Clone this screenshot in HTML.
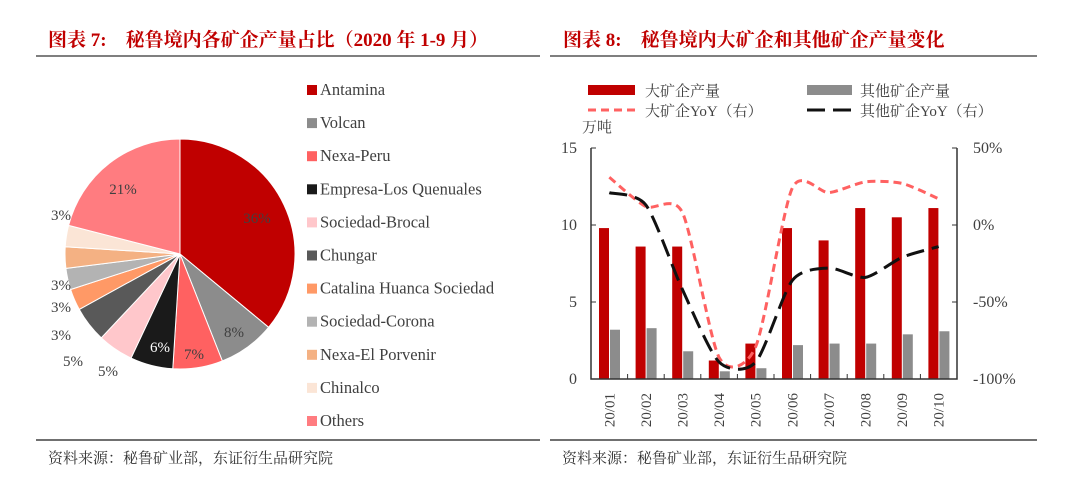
<!DOCTYPE html>
<html><head><meta charset="utf-8"><style>
body{margin:0;background:#fff;width:1080px;height:484px;overflow:hidden}
svg text{font-family:"Liberation Serif","Noto Serif CJK SC",serif}
</style></head><body>
<svg id="s" width="1080" height="484" xmlns="http://www.w3.org/2000/svg">
<text x="48" y="46" font-size="19" font-weight="bold" fill="#C00000" font-family="'Liberation Serif','Noto Serif CJK SC',serif">图表 7:　秘鲁境内各矿企产量占比（2020 年 1-9 月）</text>
<line x1="36" y1="56" x2="540" y2="56" stroke="#7f7f7f" stroke-width="2"/>
<line x1="36" y1="440" x2="540" y2="440" stroke="#404040" stroke-width="1.5"/>
<text x="48" y="463" font-size="15" fill="#333" font-family="'Noto Serif CJK SC',serif">资料来源：秘鲁矿业部，东证衍生品研究院</text>
<text x="563" y="46" font-size="19" font-weight="bold" fill="#C00000" font-family="'Liberation Serif','Noto Serif CJK SC',serif">图表 8:　秘鲁境内大矿企和其他矿企产量变化</text>
<line x1="550" y1="56" x2="1037" y2="56" stroke="#7f7f7f" stroke-width="2"/>
<line x1="550" y1="440" x2="1037" y2="440" stroke="#404040" stroke-width="1.5"/>
<text x="562" y="463" font-size="15" fill="#333" font-family="'Noto Serif CJK SC',serif">资料来源：秘鲁矿业部，东证衍生品研究院</text>
<g id="pie"></g>
<g id="leg" font-size="16.5" fill="#404040"></g>
<g id="pl" font-size="15" fill="#404040">
<text x="257" y="223" text-anchor="middle">36%</text>
<text x="234" y="337" text-anchor="middle">8%</text>
<text x="194" y="359" text-anchor="middle">7%</text>
<text x="160" y="352" text-anchor="middle" fill="#fff">6%</text>
<text x="108" y="376" text-anchor="middle">5%</text>
<text x="73" y="366" text-anchor="middle">5%</text>
<text x="61" y="340" text-anchor="middle">3%</text>
<text x="61" y="312" text-anchor="middle">3%</text>
<text x="61" y="290" text-anchor="middle">3%</text>
<text x="61" y="220" text-anchor="middle">3%</text>
<text x="123" y="194" text-anchor="middle">21%</text>
</g>
<g id="ch"></g>
<g font-size="16" fill="#404040">
<rect x="588" y="85" width="47" height="10" fill="#C00000"/>
<text x="645" y="96" font-family="'Noto Serif CJK SC',serif" font-size="15">大矿企产量</text>
<rect x="807" y="85" width="45" height="10" fill="#8C8C8C"/>
<text x="860" y="96" font-family="'Noto Serif CJK SC',serif" font-size="15">其他矿企产量</text>
<line x1="588" y1="110" x2="635" y2="110" stroke="#FF6161" stroke-width="3" stroke-dasharray="8,5"/>
<text x="645" y="116" font-size="15">大矿企YoY（右）</text>
<line x1="807" y1="110" x2="852" y2="110" stroke="#111" stroke-width="3" stroke-dasharray="18,8"/>
<text x="860" y="116" font-size="15">其他矿企YoY（右）</text>
<text x="582" y="132" font-size="15">万吨</text>
</g>
</svg>
<script>
const NS="http://www.w3.org/2000/svg";
function el(p,t,a,txt){const e=document.createElementNS(NS,t);for(const k in a)e.setAttribute(k,a[k]);if(txt!==undefined)e.textContent=txt;document.getElementById(p).appendChild(e);return e;}
const names=["Antamina","Volcan","Nexa-Peru","Empresa-Los Quenuales","Sociedad-Brocal","Chungar","Catalina Huanca Sociedad","Sociedad-Corona","Nexa-El Porvenir","Chinalco","Others"];
const vals=[36,8,7,6,5,5,3,3,3,3,21];
const cols=["#C00000","#8C8C8C","#FF6161","#1A1A1A","#FFC7CB","#595959","#FF9966","#B3B3B3","#F4B183","#FBE5D6","#FF7C80"];
let cx=180,cy=254,r=115,a=0;
vals.forEach((v,i)=>{const a2=a+v/100*2*Math.PI;
const x1=cx+r*Math.sin(a),y1=cy-r*Math.cos(a),x2=cx+r*Math.sin(a2),y2=cy-r*Math.cos(a2);
el("pie","path",{d:`M${cx},${cy}L${x1},${y1}A${r},${r} 0 ${a2-a>Math.PI?1:0} 1 ${x2},${y2}Z`,fill:cols[i],stroke:"#fff","stroke-width":1});a=a2;});
names.forEach((n,i)=>{const y=90+33.1*i;el("leg","rect",{x:307,y:y-5,width:10,height:10,fill:cols[i]});el("leg","text",{x:320,y:y+5},n);});
const L=591,R=957,T=148,B=379,cw=(R-L)/10;
const red=[9.8,8.6,8.6,1.2,2.3,9.8,9.0,11.1,10.5,11.1],gr=[3.2,3.3,1.8,0.5,0.7,2.2,2.3,2.3,2.9,3.1];
const ry=[31,12,8,-86,-79,24,21,28,27,17],by=[21,13,-42,-89,-89,-36,-28,-34,-21,-14];
const yl=v=>B-v/15*(B-T),yr=p=>B-(p+100)/150*(B-T);
for(let i=0;i<10;i++){const x=L+cw*i;
el("ch","rect",{x:x+8,y:yl(red[i]),width:10,height:B-yl(red[i]),fill:"#C00000"});
el("ch","rect",{x:x+19,y:yl(gr[i]),width:10,height:B-yl(gr[i]),fill:"#8C8C8C"});
el("ch","text",{x:0,y:0,"font-size":15,fill:"#404040","text-anchor":"end",transform:`translate(${x+cw/2+5},393) rotate(-90)`},"20/"+String(i+1).padStart(2,"0"));}
el("ch","path",{d:`M${L},${T}V${B}H${R}V${T}`,fill:"none",stroke:"#333","stroke-width":1.5});
for(let i=0;i<=10;i++)el("ch","line",{x1:L+cw*i,y1:B,x2:L+cw*i,y2:B-5,stroke:"#333"});
[0,5,10,15].forEach(v=>{el("ch","line",{x1:L,y1:yl(v),x2:L+5,y2:yl(v),stroke:"#333"});el("ch","text",{x:577,y:yl(v)+5,"font-size":16,fill:"#404040","text-anchor":"end"},v);});
[50,0,-50,-100].forEach(p=>{el("ch","line",{x1:R,y1:yr(p),x2:R-5,y2:yr(p),stroke:"#333"});el("ch","text",{x:973,y:yr(p)+5,"font-size":16,fill:"#404040"},p+"%");});
function curve(d){const P=d.map((p,i)=>[L+cw*(i+0.5),yr(p)]);let s=`M${P[0][0]},${P[0][1]}`;const k=8;
for(let i=0;i<P.length-1;i++){const p0=P[i-1]||P[i],p1=P[i],p2=P[i+1],p3=P[i+2]||P[i+1];
s+=`C${p1[0]+(p2[0]-p0[0])/k},${p1[1]+(p2[1]-p0[1])/k} ${p2[0]-(p3[0]-p1[0])/k},${p2[1]-(p3[1]-p1[1])/k} ${p2[0]},${p2[1]}`;}return s;}
el("ch","path",{d:curve(ry),fill:"none",stroke:"#FF6161","stroke-width":3,"stroke-dasharray":"8,5"});
el("ch","path",{d:curve(by),fill:"none",stroke:"#111","stroke-width":3,"stroke-dasharray":"18,8"});
</script>
</body></html>
